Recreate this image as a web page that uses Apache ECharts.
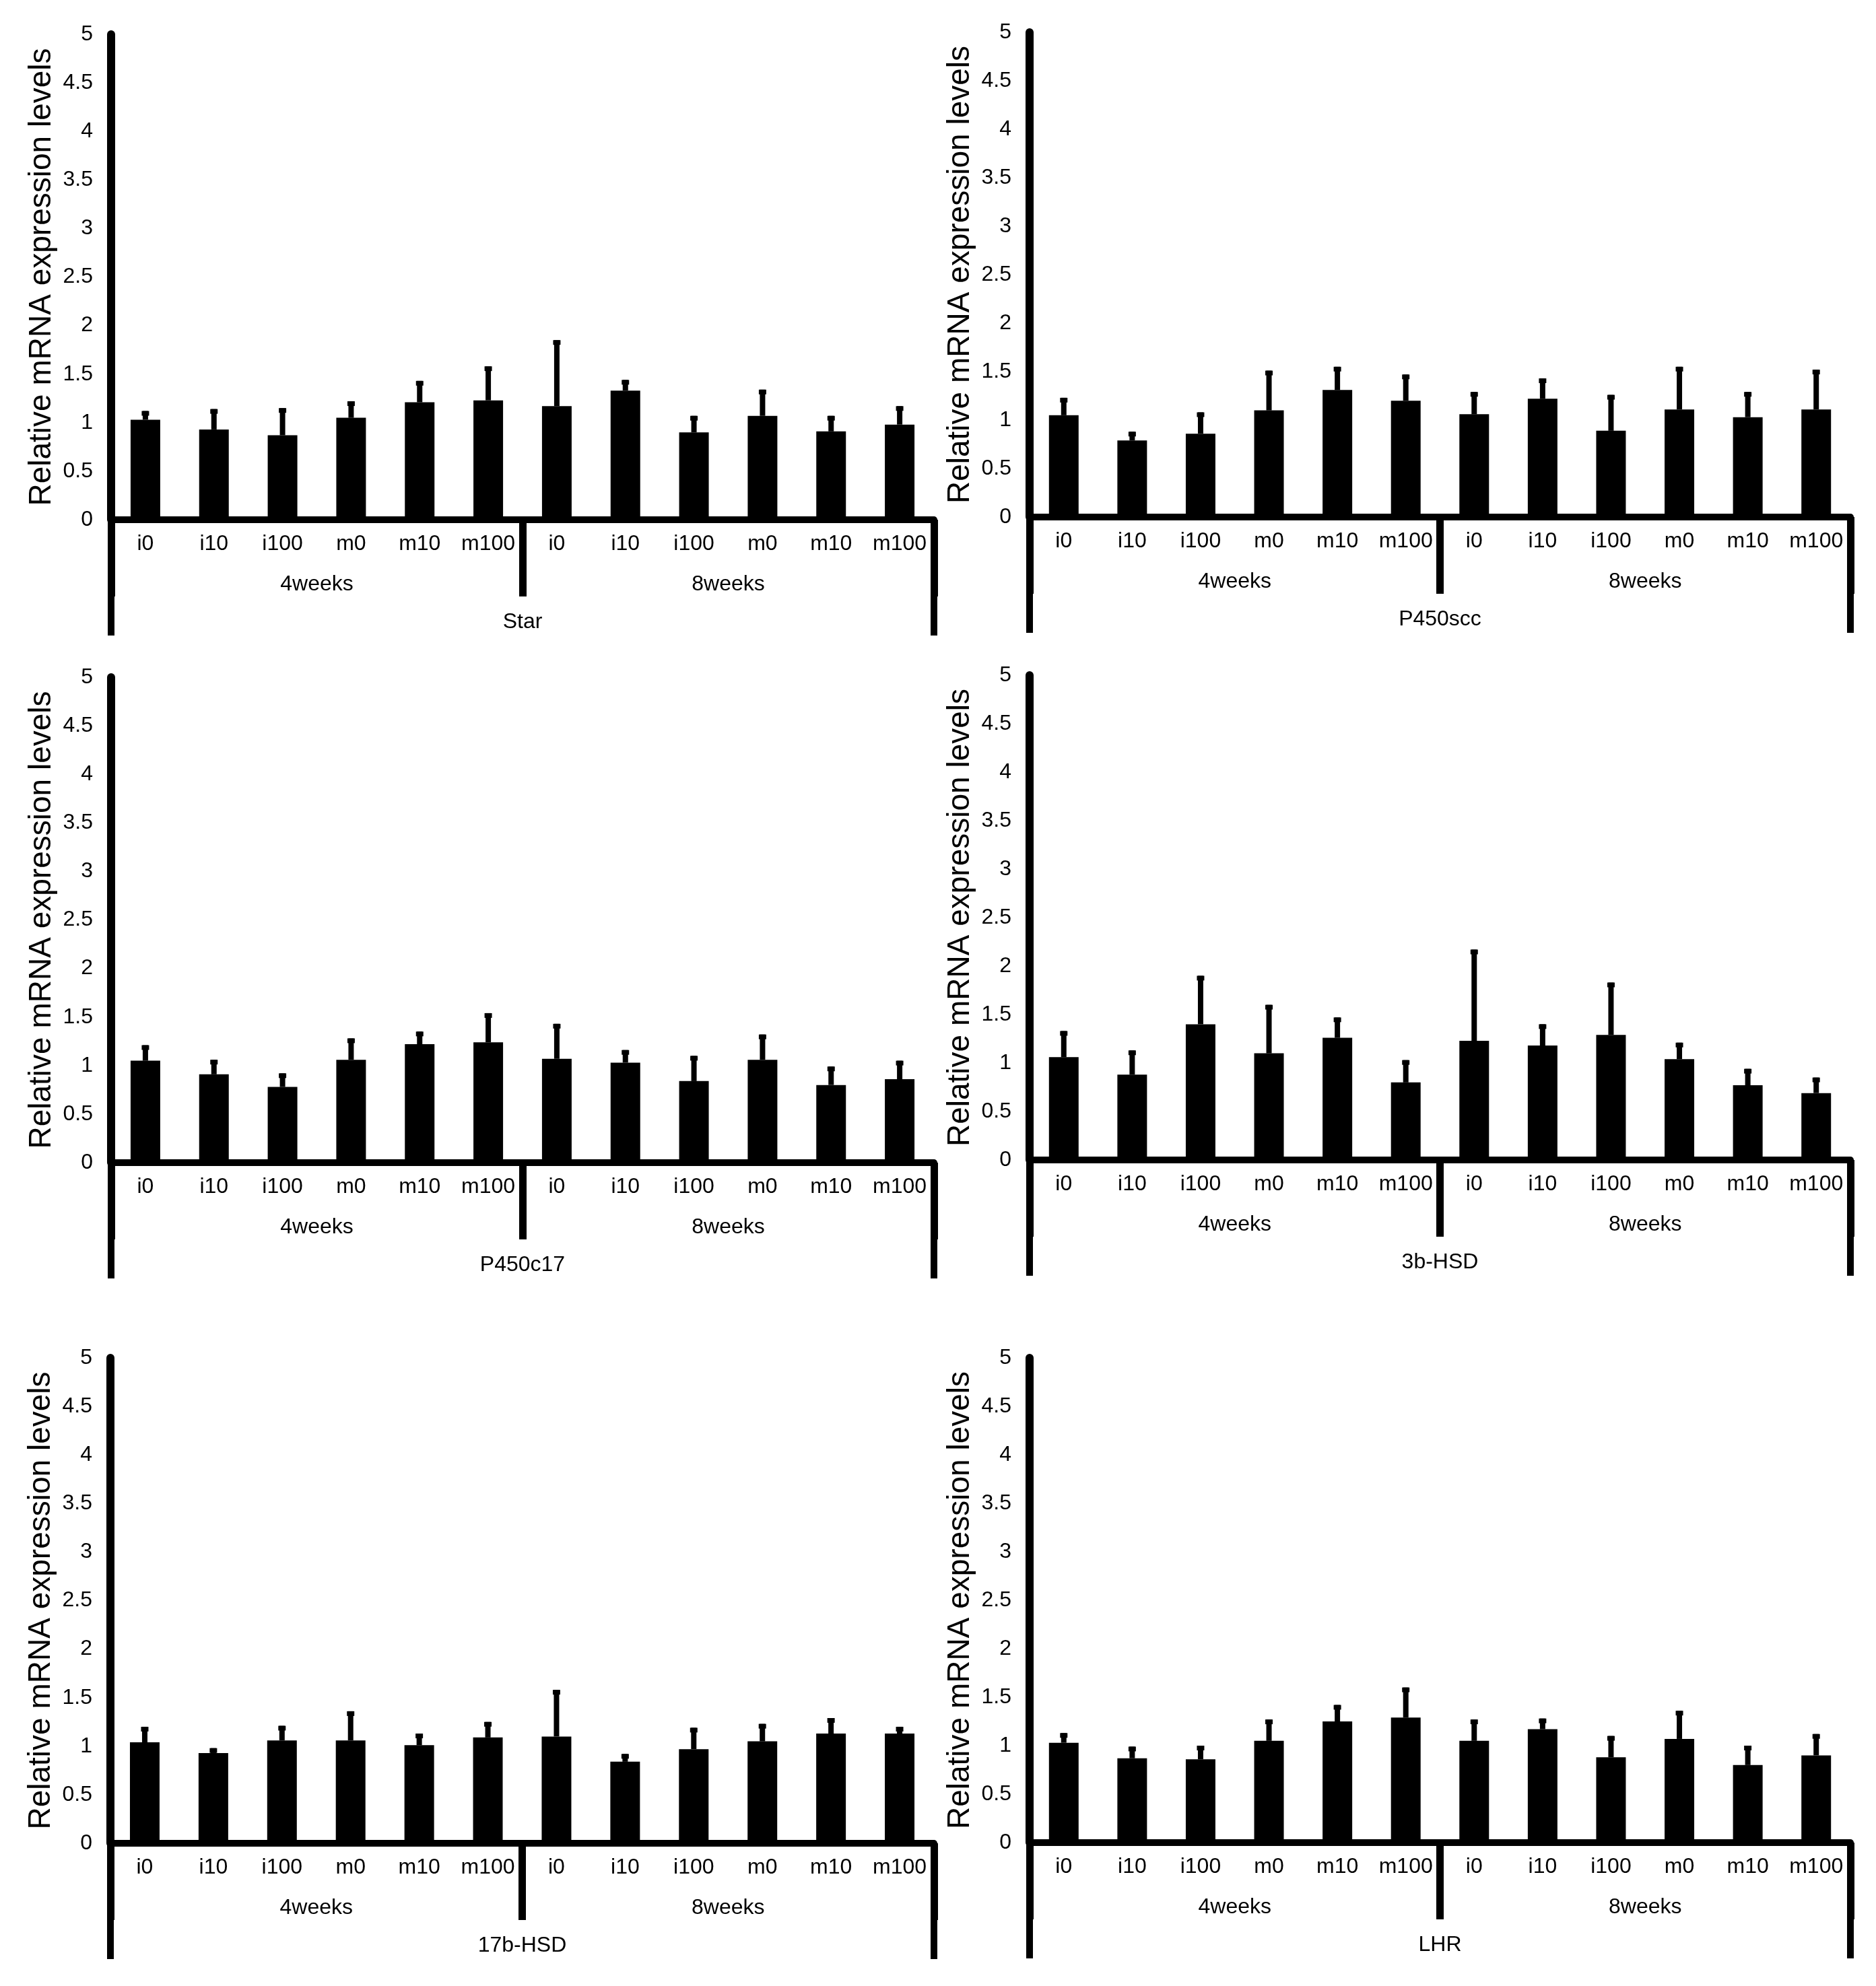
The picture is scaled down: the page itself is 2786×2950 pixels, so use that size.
<!DOCTYPE html>
<html>
<head>
<meta charset="utf-8">
<script src="https://cdn.jsdelivr.net/npm/echarts@6/dist/echarts.min.js"></script>
<style>
html,body{margin:0;padding:0;background:#fff;}
#chart{width:2786px;height:2950px;}
</style>
</head>
<body>
<div id="chart"></div>
<script>
// ---- data ----
var categories = ['i0','i10','i100','m0','m10','m100','i0','i10','i100','m0','m10','m100'];
var groups = ['4weeks','8weeks'];
var genes = ['Star','P450scc','P450c17','3b-HSD','17b-HSD','LHR'];
var yTitle = 'Relative mRNA expression levels';

var starMean    = [1.03,0.93,0.87,1.05,1.21,1.23,1.17,1.33,0.90,1.07,0.91,0.98];
var starSD      = [0.09,0.21,0.28,0.17,0.22,0.35,0.68,0.11,0.17,0.27,0.16,0.19];
var p450sccMean = [1.05,0.79,0.86,1.10,1.31,1.20,1.06,1.22,0.89,1.11,1.03,1.11];
var p450sccSD   = [0.18,0.09,0.22,0.41,0.24,0.27,0.23,0.21,0.37,0.44,0.26,0.41];
var p450c17Mean = [1.05,0.91,0.78,1.06,1.22,1.24,1.07,1.03,0.84,1.06,0.80,0.86];
var p450c17SD   = [0.16,0.15,0.14,0.22,0.13,0.30,0.36,0.13,0.26,0.26,0.19,0.19];
var hsd3bMean   = [1.06,0.88,1.40,1.10,1.26,0.80,1.23,1.18,1.29,1.04,0.77,0.69];
var hsd3bSD     = [0.27,0.25,0.50,0.50,0.21,0.23,0.94,0.22,0.54,0.17,0.17,0.16];
var hsd17bMean  = [1.04,0.93,1.06,1.06,1.01,1.09,1.10,0.84,0.97,1.05,1.13,1.13];
var hsd17bSD    = [0.16,0.05,0.15,0.30,0.12,0.16,0.48,0.08,0.22,0.18,0.16,0.07];
var lhrMean     = [1.03,0.87,0.86,1.05,1.25,1.29,1.05,1.17,0.88,1.07,0.80,0.90];
var lhrSD       = [0.10,0.12,0.14,0.22,0.17,0.31,0.22,0.11,0.22,0.29,0.20,0.22];

var means = [starMean,p450sccMean,p450c17Mean,hsd3bMean,hsd17bMean,lhrMean];
var sds   = [starSD,p450sccSD,p450c17SD,hsd3bSD,hsd17bSD,lhrSD];

// ---- layout ----
var grids = [
  {left:165, top:51,   width:1222, height:721},
  {left:1529,top:48,   width:1219, height:720},
  {left:165, top:1006, width:1222, height:721},
  {left:1529,top:1003, width:1219, height:720},
  {left:164, top:2017, width:1223, height:721},
  {left:1529,top:2017, width:1219, height:720}
];

var FONT = 'Liberation Sans, Arial, sans-serif';
var txt = {color:'#000', fontFamily:FONT, fontSize:32};

var option = {
  animation:false,
  backgroundColor:'#fff',
  grid: grids.map(function(g){ return Object.assign({containLabel:false}, g); }),
  xAxis: [], yAxis: [], series: []
};

genes.forEach(function(gene, g){
  // category axis
  option.xAxis.push({
    type:'category', gridIndex:g, position:'bottom', data:categories,
    axisLine:{show:true, lineStyle:{color:'#000', width:10}},
    axisTick:{show:false},
    axisLabel:Object.assign({interval:0, margin:20}, txt),
    splitLine:{show:false}
  });
  // group axis
  option.xAxis.push({
    type:'category', gridIndex:g, position:'bottom', offset:0, data:groups,
    axisLine:{show:false},
    axisTick:{show:true, interval:0, length:114, lineStyle:{color:'#000', width:11}},
    axisLabel:Object.assign({interval:0, margin:80}, txt),
    splitLine:{show:false}
  });
  // gene axis
  option.xAxis.push({
    type:'category', gridIndex:g, position:'bottom', offset:0, data:[gene],
    axisLine:{show:false},
    axisTick:{show:true, interval:0, length:172, lineStyle:{color:'#000', width:10}},
    axisLabel:Object.assign({interval:0, margin:136}, txt),
    splitLine:{show:false}
  });
  option.yAxis.push({
    type:'value', gridIndex:g, min:0, max:5, interval:0.5,
    name:yTitle, nameLocation:'middle', nameGap:80,
    nameTextStyle:{color:'#000', fontFamily:FONT, fontSize:46},
    axisLine:{show:true, lineStyle:{color:'#000', width:12}},
    axisTick:{show:false},
    axisLabel:Object.assign({margin:27}, txt),
    splitLine:{show:false}
  });
  option.series.push({
    type:'bar', xAxisIndex:g*3, yAxisIndex:g,
    data:means[g], barWidth:44,
    itemStyle:{color:'#000'}, silent:true, z:2
  });
  var errData = means[g].map(function(m,i){ return [i, m, sds[g][i]]; });
  option.series.push({
    type:'custom', xAxisIndex:g*3, yAxisIndex:g,
    data:errData, encode:{x:0, y:1}, silent:true, z:3,
    renderItem:function(params, api){
      var i = api.value(0), m = api.value(1), s = api.value(2);
      var p0 = api.coord([i, m]);
      var p1 = api.coord([i, m + s]);
      return {
        type:'group',
        children:[
          {type:'rect', shape:{x:p0[0]-4, y:p1[1], width:8, height:p0[1]-p1[1]}, style:{fill:'#000'}},
          {type:'rect', shape:{x:p0[0]-5.5, y:p1[1], width:11, height:7}, style:{fill:'#000'}}
        ]
      };
    }
  });
});

var chart = echarts.init(document.getElementById('chart'), null, {renderer:'canvas'});
chart.setOption(option);
</script>
</body>
</html>
